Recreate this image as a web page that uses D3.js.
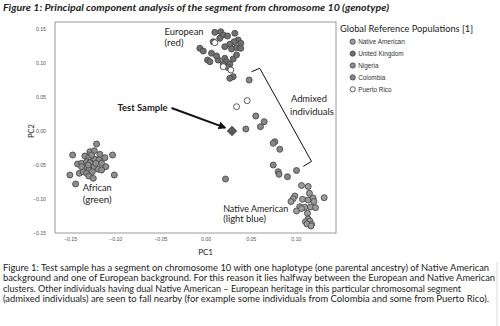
<!DOCTYPE html>
<html><head><meta charset="utf-8">
<script src="https://cdn.jsdelivr.net/npm/d3@7"></script>
<style>
html,body{margin:0;padding:0;background:#fff;}
svg{display:block;}
</style></head>
<body>
<svg id="chart" width="500" height="326"></svg>
<script>
// ---- data (PC1, PC2) ----
const nativeAmerican = [
 [0.1062,-0.0801],[0.1136,-0.0816],[0.1150,-0.0916],[0.1313,-0.0981],[0.0988,-0.0956],
 [0.0970,-0.0996],[0.0946,-0.1037],[0.1073,-0.1004],[0.1136,-0.1015],[0.1191,-0.0985],
 [0.1200,-0.1037],[0.1043,-0.1113],[0.1098,-0.1122],[0.1161,-0.1118],[0.1217,-0.1128],
 [0.1007,-0.1176],[0.1062,-0.1140],[0.1128,-0.1210],[0.1136,-0.1294],[0.1106,-0.1334],
 [0.1154,-0.1324],[0.1173,-0.1372],[0.1123,-0.1368],[0.1167,-0.1397]
];
const unitedKingdom = [
 [0.0103,0.1451],[0.0169,0.1460],[0.0196,0.1412],[0.0158,0.1363],[0.0085,0.1313],
 [0.0324,0.1437],[0.0362,0.1338],[0.0317,0.1313],[0.0390,0.1290],[0.0269,0.1275],
 [0.0213,0.1240],[0.0343,0.1225],[0.0390,0.1216],[0.0288,0.1206],[-0.0063,0.1216],
 [-0.0025,0.1176],[0.0066,0.1143],[0.0022,0.1044],[0.0048,0.1019],[0.0140,0.1044],
 [0.0213,0.1069],[0.0232,0.1019],[0.0306,0.1059],[0.0269,0.0981],[0.0196,0.0981],
 [0.0251,0.0931],[0.0306,0.0799],[0.0269,0.0775],[0.0243,0.1397],[0.0122,0.1103],[0.0343,0.1118]
];
const nigeria = [
 [-0.1206,-0.0191],[-0.1471,-0.0353],[-0.1029,-0.0353],[-0.1280,-0.0304],[-0.1231,-0.0290],
 [-0.1169,-0.0343],[-0.1114,-0.0393],[-0.1335,-0.0368],[-0.1291,-0.0387],[-0.1416,-0.0485],
 [-0.1372,-0.0475],[-0.1225,-0.0416],[-0.1180,-0.0426],[-0.1316,-0.0451],[-0.1280,-0.0466],
 [-0.1150,-0.0475],[-0.1103,-0.0525],[-0.1501,-0.0647],[-0.1397,-0.0622],[-0.1335,-0.0549],
 [-0.1291,-0.0574],[-0.1231,-0.0525],[-0.1187,-0.0563],[-0.1353,-0.0599],[-0.1316,-0.0622],
 [-0.1253,-0.0599],[-0.1291,-0.0662],[-0.1242,-0.0696],[-0.1150,-0.0574],[-0.1010,-0.0647],
 [-0.1438,-0.0779],[-0.1298,-0.0500],[-0.1372,-0.0525],[-0.1261,-0.0353],[-0.1214,-0.0475]
];
const colombia = [
 [0.0483,0.0750],[0.0556,0.0221],[0.0649,0.0137],[0.0608,0.0063],[0.0446,0.0029],
 [0.0767,-0.0157],[0.0749,-0.0181],[0.0822,-0.0269],[0.0749,-0.0500],[0.0804,-0.0599],
 [0.0813,-0.0637],[0.0907,-0.0672],[0.1007,-0.0581],[0.0221,-0.0706]
];
const puertoRico = [
 [0.0103,0.1299],[0.0196,0.0946],[0.0280,0.0897],[0.0461,0.0446],[0.0343,0.0357]
];
const testSample = [0.0293, 0.0000];

const legendLabels = ["Native American","United Kingdom","Nigeria","Colombia","Puerto Rico"];
const xTicks = [-0.15,-0.10,-0.05,0.00,0.05,0.10];
const yTicks = [-0.15,-0.10,-0.05,0.00,0.05,0.10,0.15];

const title = "Figure 1: Principal component analysis of the segment from chromosome 10 (genotype)";
const caption = [
 "Figure 1: Test sample has a segment on chromosome 10 with one haplotype (one parental ancestry) of Native American",
 "background and one of European background. For this reason it lies halfway between the European and Native American",
 "clusters. Other individuals having dual Native American \u2013 European heritage in this particular chromosomal segment",
 "(admixed individuals) are seen to fall nearby (for example some individuals from Colombia and some from Puerto Rico)."
];

// ---- drawing ----
const svg = d3.select("#chart");
const calibri = "Lato, 'Open Sans', sans-serif";
const arial = "'Liberation Sans', Arial, sans-serif";

const plot = {left:55, right:336, top:22, bottom:233};
const x = d3.scaleLinear().domain([-0.1666, 0.1444]).range([plot.left, plot.right]);
const y = d3.scaleLinear().domain([-0.15, 0.1603]).range([plot.bottom, plot.top]);

// title
svg.append("text").attr("x",3).attr("y",11)
  .attr("font-family",calibri).attr("font-weight","bold").attr("font-style","italic")
  .attr("font-size",10).attr("fill","#222")
  .attr("textLength",386).attr("lengthAdjust","spacingAndGlyphs")
  .text(title);

// frame
svg.append("rect").attr("x",plot.left).attr("y",plot.top)
  .attr("width",plot.right-plot.left).attr("height",plot.bottom-plot.top)
  .attr("fill","none").attr("stroke","#9a9a9a").attr("stroke-width",1);

// axes
const fmt = d3.format(".2f");
const gx = svg.append("g").attr("transform",`translate(0,${plot.bottom})`)
  .call(d3.axisBottom(x).tickValues(xTicks).tickSize(0).tickPadding(4).tickFormat(fmt));
const gy = svg.append("g").attr("transform",`translate(${plot.left},0)`)
  .call(d3.axisLeft(y).tickValues(yTicks).tickSize(0).tickPadding(9).tickFormat(fmt));
[gx,gy].forEach(g=>{
  g.select(".domain").remove();
  g.selectAll("text").attr("font-family",arial).attr("font-size",5.2).attr("fill","#555");
});

svg.append("text").attr("x",x(0)).attr("y",255).attr("text-anchor","middle")
  .attr("font-family",calibri).attr("font-size",8).attr("fill","#222").text("PC1");
svg.append("text").attr("transform",`translate(33.5,${y(0)}) rotate(-90)`).attr("text-anchor","middle")
  .attr("font-family",calibri).attr("font-size",7.5).attr("fill","#222").text("PC2");

// series
const series = [
  {name:legendLabels[0], data:nativeAmerican, fill:"#9c9c9c"},
  {name:legendLabels[1], data:unitedKingdom, fill:"#707070"},
  {name:legendLabels[2], data:nigeria, fill:"#8e8e8e"},
  {name:legendLabels[3], data:colombia, fill:"#888888"},
  {name:legendLabels[4], data:puertoRico, fill:"#ffffff"}
];
const order = [2,0,3,1,4];
order.forEach(i=>{
  const s = series[i];
  svg.append("g").selectAll("circle").data(s.data).join("circle")
    .attr("cx",d=>x(d[0])).attr("cy",d=>y(d[1])).attr("r",3)
    .attr("fill",s.fill).attr("stroke","#4a4a4a").attr("stroke-width",0.9);
});

// test sample diamond
svg.append("path")
  .attr("d",d3.symbol(d3.symbolSquare, 44)())
  .attr("transform",`translate(${x(testSample[0])},${y(testSample[1])}) rotate(45)`)
  .attr("fill","#5a5a5a").attr("stroke","#333").attr("stroke-width",0.8);

// arrow
const defs = svg.append("defs");
defs.append("marker").attr("id","ah").attr("viewBox","0 0 10 10").attr("refX",8).attr("refY",5)
  .attr("markerWidth",4).attr("markerHeight",4).attr("orient","auto")
  .append("path").attr("d","M0,0 L10,5 L0,10 z").attr("fill","#111");
svg.append("line")
  .attr("x1",x(-0.0376)).attr("y1",y(0.0338)).attr("x2",x(0.0215)).attr("y2",y(0.0050))
  .attr("stroke","#111").attr("stroke-width",2).attr("marker-end","url(#ah)");

// bracket
svg.append("path")
  .attr("d",d3.line()([[x(0.0509),y(0.0872)],[x(0.0600),y(0.0922)],[x(0.1173),y(-0.0447)],[x(0.1081),y(-0.0520)]]))
  .attr("fill","none").attr("stroke","#111").attr("stroke-width",1);

// annotations
function label(txt, px, py, len, opts={}){
  svg.append("text").attr("x",px).attr("y",py)
    .attr("font-family",calibri).attr("font-size",opts.size||9.5)
    .attr("font-weight",opts.bold?"bold":"normal").attr("fill","#222")
    .attr("textLength",len).attr("lengthAdjust","spacingAndGlyphs").text(txt);
}
label("European", x(-0.0453), y(0.1415), 39);
label("(red)", x(-0.0453), y(0.1255), 19);
label("Test Sample", x(-0.0974), y(0.0290), 50, {bold:true, size:9});
label("Admixed", x(0.0945), y(0.0420), 36);
label("individuals", x(0.0934), y(0.0240), 44);
label("African", x(-0.1360), y(-0.0885), 29);
label("(green)", x(-0.1360), y(-0.1055), 29);
label("Native American", x(0.0195), y(-0.1190), 65);
label("(light blue)", x(0.0195), y(-0.1340), 43);

// legend
svg.append("text").attr("x",340).attr("y",32).attr("font-family",calibri).attr("font-size",9.5)
  .attr("fill","#222").attr("textLength",133).attr("lengthAdjust","spacingAndGlyphs")
  .text("Global Reference Populations [1]");
const lg = svg.append("g").selectAll("g").data(series).join("g")
  .attr("transform",(d,i)=>`translate(352.7,${41.7+i*11.9})`);
lg.append("circle").attr("r",2.6).attr("fill",d=>d.fill).attr("stroke","#4a4a4a").attr("stroke-width",0.9);
lg.append("text").attr("x",5.5).attr("y",2.3).attr("font-family",arial).attr("font-size",6.4)
  .attr("fill","#333").text(d=>d.name);

// caption: one shared font size fitted to the line widths
const capW = [486, 492, 458, 486];
const cap = svg.append("g").selectAll("text").data(caption).join("text")
  .attr("x",3).attr("y",(d,i)=>271+i*10.35)
  .attr("font-family",calibri).attr("font-size",10).attr("fill","#222")
  .text(d=>d);
const natural = cap.nodes().map(n=>n.getComputedTextLength());
const fs = 10 * d3.mean(natural.map((w,i)=>capW[i]/w));
cap.attr("font-size",fs)
  .attr("textLength",(d,i)=>capW[i]).attr("lengthAdjust","spacingAndGlyphs");

// faint page edge
svg.append("line").attr("x1",497).attr("x2",497).attr("y1",262).attr("y2",326)
  .attr("stroke","#ddd").attr("stroke-width",1);
</script>
</body></html>
